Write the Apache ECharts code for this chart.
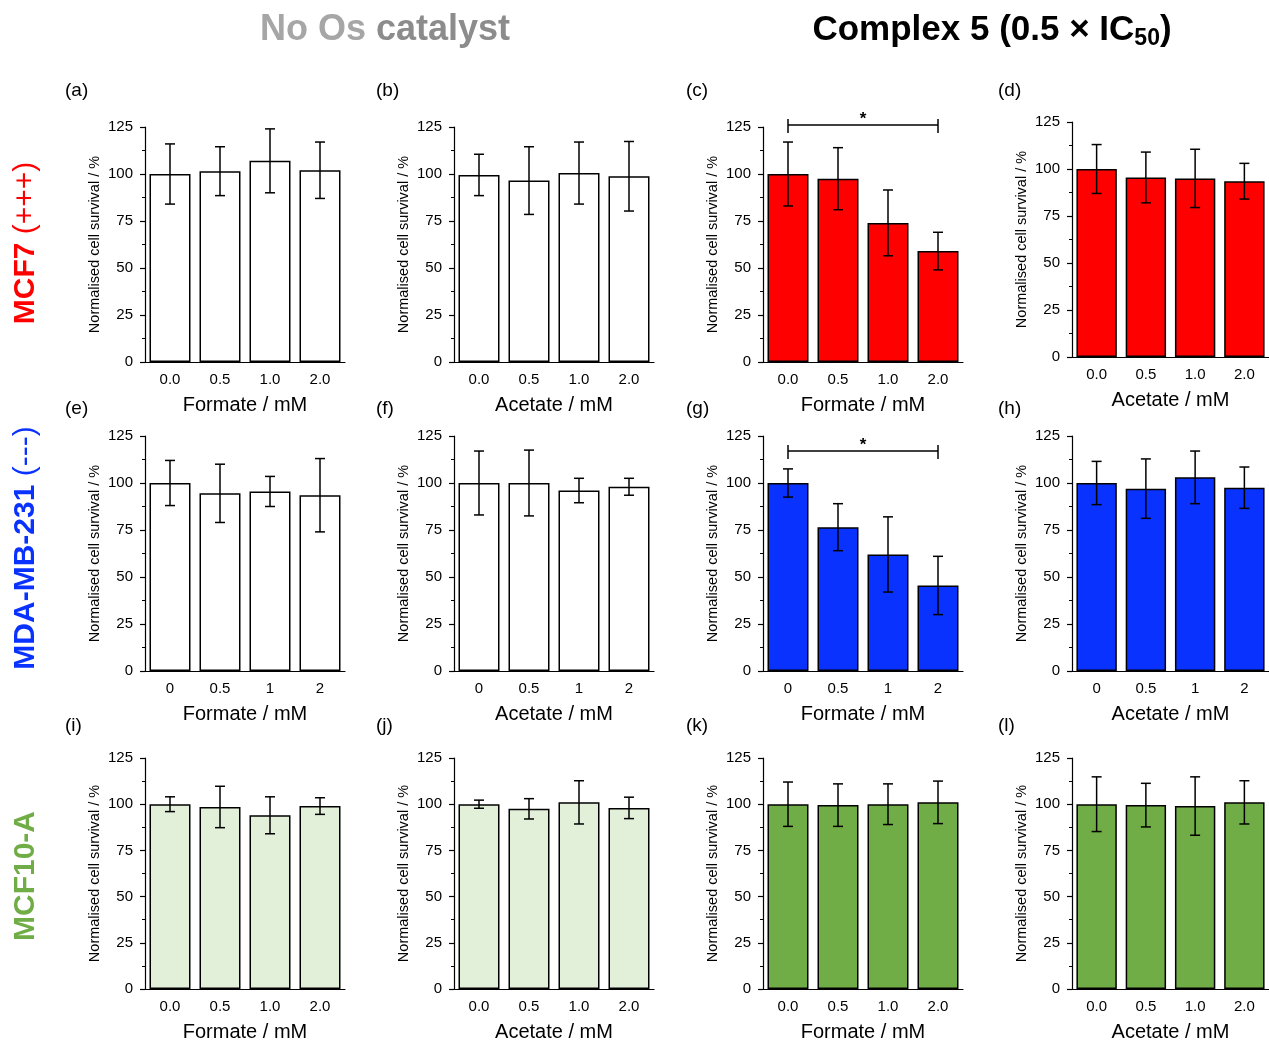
<!DOCTYPE html>
<html>
<head>
<meta charset="utf-8">
<script src="https://cdn.jsdelivr.net/npm/echarts@6/dist/echarts.min.js"></script>
<style>html,body{margin:0;padding:0;background:#fff;}#main{width:1269px;height:1043px;}</style>
</head>
<body>
<div id="main"></div>
<script>
// ---- data ----
const catsDecimal = ['0.0', '0.5', '1.0', '2.0'];
const catsShort = ['0', '0.5', '1', '2'];
const yTicks = [0, 25, 50, 75, 100, 125];

// Row 1: MCF7
const mean_a = [100, 101.5, 107, 102];   const err_a = [16, 13, 17, 15];
const mean_b = [99.5, 96.5, 100.5, 98.8]; const err_b = [11, 18, 16.5, 18.5];
const mean_c = [100, 97.5, 74, 59];       const err_c = [17, 16.5, 17.5, 10];
const mean_d = [100, 95.5, 95, 93.5];     const err_d = [13, 13.5, 15.5, 9.5];
// Row 2: MDA-MB-231
const mean_e = [100, 94.5, 95.5, 93.5];   const err_e = [12, 15.5, 8, 19.5];
const mean_f = [100, 100, 96, 98];        const err_f = [17, 17.5, 6.5, 4.5];
const mean_g = [100, 76.5, 62, 45.5];     const err_g = [7.5, 12.5, 20, 15.5];
const mean_h = [100, 97, 103, 97.5];      const err_h = [11.5, 15.8, 14, 11];
// Row 3: MCF10-A
const mean_i = [100, 98.5, 94, 99];       const err_i = [4, 11.2, 10, 4.5];
const mean_j = [100, 97.5, 101, 98];      const err_j = [2.2, 5.5, 11.7, 5.8];
const mean_k = [100, 99.5, 100, 101];     const err_k = [12, 11.5, 11, 11.5];
const mean_l = [100, 99.5, 99, 101];      const err_l = [14.8, 11.8, 15.8, 11.7];

// significance brackets [fromIndex, toIndex, yLevel]
const sig_c = [[0, 3, 126]];
const sig_g = [[0, 3, 117]];

const panelLetters = ['(a)','(b)','(c)','(d)','(e)','(f)','(g)','(h)','(i)','(j)','(k)','(l)'];
const xNames = ['Formate / mM', 'Acetate / mM', 'Formate / mM', 'Acetate / mM'];
const yName = 'Normalised cell survival / %';
const rowLabels = [['MCF7', '(+++)'], ['MDA-MB-231', '(---)'], ['MCF10-A', '']];

// ---- styles / layout ----
const FONT = '"Liberation Sans", Arial, Helvetica, sans-serif';
const colLeft = [145, 454, 763, 1072];
const rowTop = [127, 436, 758];
const gridW = 200, gridH = 235;
const rowColors = [
  ['#ffffff', '#ffffff', '#ff0000', '#ff0000'],
  ['#ffffff', '#ffffff', '#0a32ff', '#0a32ff'],
  ['#e2efd9', '#e2efd9', '#70ad47', '#70ad47']
];
const rowLabelColors = ['#ff0000', '#0a32ff', '#70ad47'];
const rowCats = [catsDecimal, catsShort, catsDecimal];

const panels = [
  [mean_a, err_a, null], [mean_b, err_b, null], [mean_c, err_c, sig_c], [mean_d, err_d, null],
  [mean_e, err_e, null], [mean_f, err_f, null], [mean_g, err_g, sig_g], [mean_h, err_h, null],
  [mean_i, err_i, null], [mean_j, err_j, null], [mean_k, err_k, null], [mean_l, err_l, null]
];

const grids = [], xAxes = [], yAxes = [], series = [], graphics = [];

panels.forEach((p, idx) => {
  const r = Math.floor(idx / 4), c = idx % 4;
  let top = rowTop[r];
  if (r === 0 && c === 3) top = 122;
  grids.push({ left: colLeft[c], top: top, width: gridW, height: gridH, containLabel: false });
  xAxes.push({
    type: 'category', gridIndex: idx, data: rowCats[r],
    axisLine: { lineStyle: { color: '#000', width: 1.2 } },
    axisTick: { show: false },
    axisLabel: { color: '#000', fontSize: 15, fontFamily: FONT, margin: 10 },
    name: xNames[c], nameLocation: 'middle', nameGap: 33,
    nameTextStyle: { color: '#000', fontSize: 20, fontFamily: FONT }
  });
  yAxes.push({
    type: 'value', gridIndex: idx, min: 0, max: 125, interval: 25,
    axisLine: { show: true, lineStyle: { color: '#000', width: 1.2 } },
    axisTick: { show: true, length: 5, lineStyle: { color: '#000', width: 1.2 } },
    minorTick: { show: true, splitNumber: 2, length: 3, lineStyle: { color: '#000', width: 1 } },
    splitLine: { show: false },
    axisLabel: { color: '#000', fontSize: 15, fontFamily: FONT, margin: 12 },
    name: yName, nameLocation: 'middle', nameGap: 43, nameRotate: 90,
    nameTextStyle: { color: '#000', fontSize: 14.5, fontFamily: FONT }
  });
  series.push({
    type: 'bar', xAxisIndex: idx, yAxisIndex: idx, data: p[0],
    barCategoryGap: '18%',
    itemStyle: { color: rowColors[r][c], borderColor: '#000', borderWidth: 1.5 },
    silent: true
  });
  series.push({
    type: 'custom', xAxisIndex: idx, yAxisIndex: idx,
    data: p[0].map((m, i) => [i, m, p[1][i]]),
    encode: { x: 0, y: 1 },
    z: 5,
    renderItem: function (params, api) {
      const x = api.value(0), m = api.value(1), e = api.value(2);
      const hi = api.coord([x, m + e]), lo = api.coord([x, m - e]);
      const w = 5;
      const st = { stroke: '#000', lineWidth: 1.5 };
      return { type: 'group', children: [
        { type: 'line', shape: { x1: hi[0], y1: hi[1], x2: lo[0], y2: lo[1] }, style: st },
        { type: 'line', shape: { x1: hi[0] - w, y1: hi[1], x2: hi[0] + w, y2: hi[1] }, style: st },
        { type: 'line', shape: { x1: lo[0] - w, y1: lo[1], x2: lo[0] + w, y2: lo[1] }, style: st }
      ]};
    }
  });
  if (p[2]) {
    series.push({
      type: 'custom', xAxisIndex: idx, yAxisIndex: idx, data: p[2],
      encode: { x: [0, 1], y: 2 }, clip: false, z: 6,
      renderItem: function (params, api) {
        const a = api.coord([api.value(0), api.value(2)]);
        const b = api.coord([api.value(1), api.value(2)]);
        const st = { stroke: '#000', lineWidth: 1.5 };
        return { type: 'group', children: [
          { type: 'line', shape: { x1: a[0], y1: a[1], x2: b[0], y2: b[1] }, style: st },
          { type: 'line', shape: { x1: a[0], y1: a[1] - 6, x2: a[0], y2: a[1] + 8 }, style: st },
          { type: 'line', shape: { x1: b[0], y1: b[1] - 6, x2: b[0], y2: b[1] + 8 }, style: st },
          { type: 'text', style: { text: '*', x: (a[0] + b[0]) / 2, y: a[1] + 3, align: 'center', verticalAlign: 'bottom', fontSize: 17, fontWeight: 'bold', fontFamily: FONT, fill: '#000' } }
        ]};
      }
    });
  }
  // panel letter
  const lx = [65, 376, 686, 998][c];
  const ly = [92, 410, 727][r];
  graphics.push({ type: 'text', left: lx, top: ly - 11, style: { text: panelLetters[idx], fontSize: 19, fontFamily: FONT, fill: '#000' } });
});

// column titles
graphics.push({
  type: 'text', x: 385, y: 30,
  style: {
    text: '{a|No Os }{b|catalyst}', align: 'center', verticalAlign: 'middle',
    rich: {
      a: { fontSize: 36, fontWeight: 'bold', fontFamily: FONT, fill: '#a6a6a6' },
      b: { fontSize: 36, fontWeight: 'bold', fontFamily: FONT, fill: '#8c8c8c' }
    }
  }
});
graphics.push({
  type: 'text', x: 992, y: 30,
  style: {
    text: '{m|Complex 5 (0.5 × IC}{s|50}{m|)}', align: 'center', verticalAlign: 'middle',
    rich: {
      m: { fontSize: 35, fontWeight: 'bold', fontFamily: FONT, fill: '#000', lineHeight: 40 },
      s: { fontSize: 23, fontWeight: 'bold', fontFamily: FONT, fill: '#000', lineHeight: 23, verticalAlign: 'bottom' }
    }
  }
});

// row labels (rotated)
const rowCenters = [243, 548, 876];
rowLabels.forEach((lab, r) => {
  graphics.push({
    type: 'text', x: 26, y: rowCenters[r], rotation: Math.PI / 2,
    style: {
      text: lab[1] ? '{b|' + lab[0] + ' }{n|' + lab[1] + '}' : '{b|' + lab[0] + '}',
      align: 'center', verticalAlign: 'middle',
      rich: {
        b: { fontSize: 30, fontWeight: 'bold', fontFamily: FONT, fill: rowLabelColors[r] },
        n: { fontSize: 30, fontFamily: FONT, fill: rowLabelColors[r] }
      }
    }
  });
});

const chart = echarts.init(document.getElementById('main'), null, { renderer: 'canvas' });
chart.setOption({
  backgroundColor: '#ffffff',
  animation: false,
  grid: grids, xAxis: xAxes, yAxis: yAxes, series: series,
  graphic: graphics
});
</script>
</body>
</html>
